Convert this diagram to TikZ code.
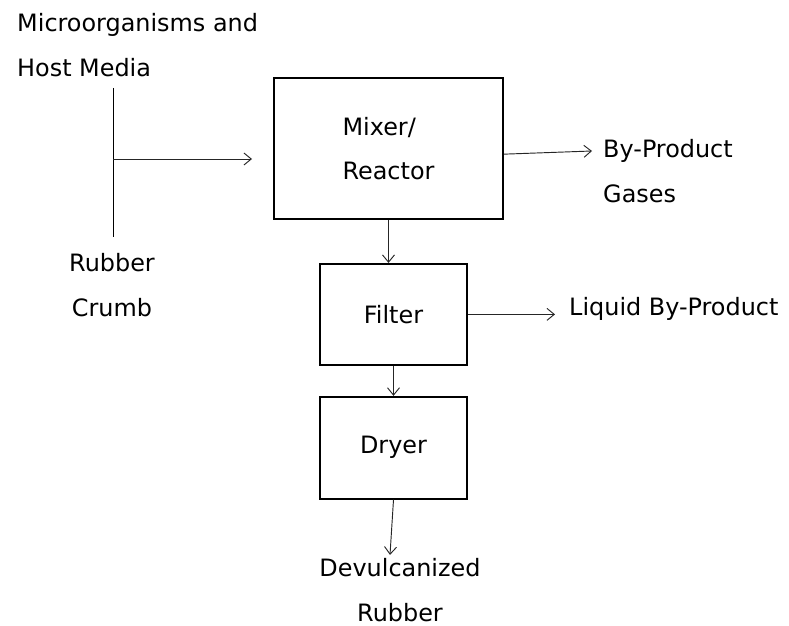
\documentclass[tikz,border=0pt]{standalone}
\usepackage{fontspec}
\setmainfont{DejaVu Sans}
\usetikzlibrary{arrows.meta,positioning}

\begin{document}
\begin{tikzpicture}[
    x=0.03cm, y=-0.03cm,
    node distance=1.29cm,
    txt/.style={inner sep=0pt, font=\fontsize{20.4}{38}\selectfont},
    box/.style={draw, line width=1.6pt, align=left, font=\fontsize{20.4}{38}\selectfont},
    link/.style={-{Straight Barb[length=2.2mm, width=3.6mm]}, line width=0.8pt, draw=black!85}
]
\useasboundingbox (0,0) rectangle (789,626);
\node[box, minimum width=6.87cm, minimum height=4.23cm] (mixer) at (388.5,148.5) {Mixer/\\Reactor};
\node[box, minimum width=4.41cm, minimum height=3.03cm, below=of mixer, xshift=0.15cm] (filter) {Filter};
\node[box, minimum width=4.41cm, minimum height=3.06cm, below=0.9cm of filter] (dryer) {Dryer};
\node[txt, align=left, anchor=west] (micro) at (17,45) {Microorganisms and\\Host Media};
\node[txt, align=center] (crumb) at (112,285) {Rubber\\Crumb};
\node[txt, align=left, anchor=west] (gases) at (603,171) {By-Product\\Gases};
\node[txt, anchor=west] (liquid) at (569,309) {Liquid By-Product};
\node[txt, align=center] (devul) at (400,590) {Devulcanized\\Rubber};
\coordinate (feedtop) at (113,88);
\coordinate (feedbot) at (113,237);
\coordinate (feedmid) at (113,159);
\coordinate (feedend) at (252,159);
\coordinate (gasend) at (592,151);
\draw[line width=0.8pt] (feedtop) -- (feedbot);
\draw[link] (feedmid) -- (feedend);
\draw[link] ([yshift=-0.17cm]mixer.east) -- (gasend);
\draw[link] (mixer.south) -- (mixer.south |- filter.north);
\draw[link, shorten >=0.42cm] (filter.east) -- (filter.east -| liquid.west);
\draw[link] (filter.south) -- (dryer.north);
\draw[link] (dryer.south) -- ([xshift=-0.3cm, yshift=0.1cm]devul.north);
\end{tikzpicture}
\end{document}
